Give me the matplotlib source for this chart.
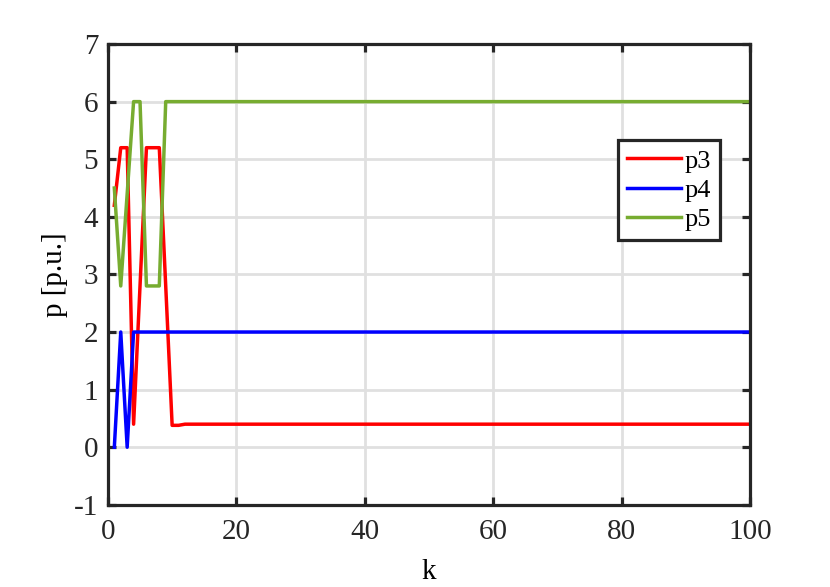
import numpy as np
import matplotlib.pyplot as plt

plt.rcParams['font.family'] = ['Liberation Serif', 'DejaVu Serif']
plt.rcParams['axes.unicode_minus'] = False

# values, k = 1..100
k = list(range(1, 101))
p3 = [4.2, 5.2, 5.2, 0.4, 2.8, 5.2, 5.2, 5.2, 2.8, 0.38, 0.38, 0.4] + [0.4] * 88
p4 = [0.0, 2.0, 0.0, 2.0] + [2.0] * 96
p5 = [4.5, 2.8, 4.4, 6.0, 6.0, 2.8, 2.8, 2.8, 6.0] + [6.0] * 91

fig = plt.figure(figsize=(8.3, 5.87), dpi=100)
ax = fig.add_axes([0.130, 0.140, 0.774, 0.785])

ax.plot(k, p3, color='#ff0000', lw=2.5, label='p3')
ax.plot(k, p4, color='#0000ff', lw=2.5, label='p4')
ax.plot(k, p5, color='#77ac30', lw=2.5, label='p5')

ax.set_xlim(0, 100)
ax.set_ylim(-1, 7)
ax.set_xticks([0, 20, 40, 60, 80, 100])
ax.set_yticks(range(-1, 8))
ax.grid(True, color='#e0e0e0', lw=2.0)
ax.set_axisbelow(True)

for s in ax.spines.values():
    s.set_linewidth(2.3)
    s.set_color('#262626')
ax.tick_params(direction='in', top=True, right=True, length=6, width=2.3,
               colors='#262626', labelsize=21)
ax.tick_params(axis='x', pad=10)
ax.tick_params(axis='y', pad=7)

ax.set_xlabel('k', fontsize=21, labelpad=10)
ax.set_ylabel('p [p.u.]', fontsize=21, labelpad=4)

leg = ax.legend(loc='upper right', bbox_to_anchor=(0.953, 0.792), fontsize=19,
                fancybox=False, framealpha=1, edgecolor='#262626',
                handlelength=2.05, handletextpad=0.12, borderpad=0.35,
                labelspacing=0.22, borderaxespad=0)
leg.get_frame().set_linewidth(2.3)

plt.savefig('out.png')
